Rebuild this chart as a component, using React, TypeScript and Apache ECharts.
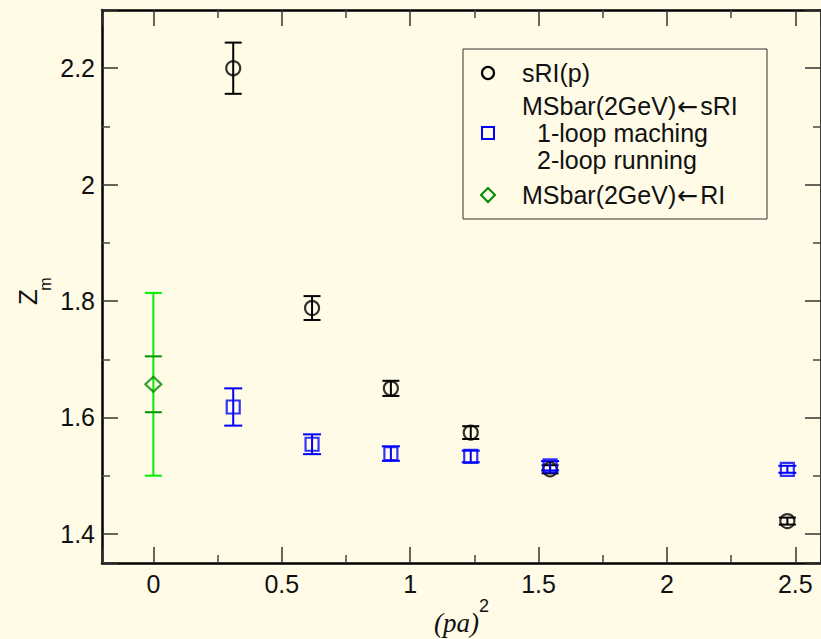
import React, { useEffect, useRef } from "react";
import * as echarts from "echarts";

// ---- data ----
const xP = [0.311, 0.618, 0.925, 1.236, 1.545, 2.469];
const sriY = [2.2, 1.788, 1.65, 1.574, 1.511, 1.422];
const sriErr = [0.044, 0.0205, 0.013, 0.011, 0.007, 0.006];
const msY = [1.618, 1.554, 1.538, 1.533, 1.517, 1.511];
const msErr = [0.032, 0.017, 0.0125, 0.01, 0.008, 0.006];
const riX = [0];
const riY = [1.657];
const riErrInner = [0.048];
const riErrOuter = [0.157];

const xMin = -0.2;
const xMax = 2.6;
const yMin = 1.35;
const yMax = 2.3;

const legendLabels = ["sRI(p)", "MSbar(2GeV)\u2190sRI", "1-loop maching", "2-loop running", "MSbar(2GeV)\u2190RI"];

const BG = "#fffbe6";
const FONT = "Liberation Sans";

function errSeries(xs: number[], ys: number[], es: number[], color: string, halfCap: number, vertical: boolean, z: number) {
  return {
    type: "custom",
    xAxisIndex: 0,
    yAxisIndex: 0,
    silent: true,
    z,
    data: xs.map((x, i) => [x, ys[i] - es[i], ys[i] + es[i]]),
    encode: { x: 0, y: [1, 2] },
    renderItem: (params: any, api: any) => {
      const x = api.value(0);
      const lo = api.coord([x, api.value(1)]);
      const hi = api.coord([x, api.value(2)]);
      const st = { stroke: color, lineWidth: 2 };
      const children: any[] = [
        { type: "line", shape: { x1: lo[0] - halfCap, y1: lo[1], x2: lo[0] + halfCap, y2: lo[1] }, style: st },
        { type: "line", shape: { x1: hi[0] - halfCap, y1: hi[1], x2: hi[0] + halfCap, y2: hi[1] }, style: st },
      ];
      if (vertical) {
        children.push({ type: "line", shape: { x1: lo[0], y1: lo[1], x2: hi[0], y2: hi[1] }, style: st });
      }
      return { type: "group", children };
    },
  };
}

function axisCommon(showLabel: boolean) {
  return {
    axisLine: { show: true, onZero: false, lineStyle: { color: "#000", width: 2.5 } },
    axisTick: { show: true, inside: true, length: 16, lineStyle: { color: "#333", width: 1.5 } },
    minorTick: { show: true, splitNumber: 2, length: 8, lineStyle: { color: "#444", width: 1.5 } },
    splitLine: { show: false },
    minorSplitLine: { show: false },
    axisLabel: {
      show: showLabel,
      showMinLabel: false,
      showMaxLabel: false,
      fontFamily: FONT,
      fontSize: 25,
      color: "#111",
    },
  };
}

// legend label text with a wider arrow glyph
function arrowRich(label: string) {
  const parts = label.split("\u2190");
  return parts.length === 2 ? `{a|${parts[0]}}{b|\u2190}{a|${parts[1]}}` : `{a|${label}}`;
}

const richStyle = {
  a: { fontFamily: FONT, fontSize: 25, fill: "#111" },
  b: { fontFamily: "DejaVu Sans", fontSize: 25, fill: "#111", padding: [0, 2, 0, 1] },
};

export default function App() {
  const ref = useRef<HTMLDivElement>(null);
  useEffect(() => {
    if (!ref.current) return;
    const chart = echarts.init(ref.current, undefined, { renderer: "svg" });
    const xAxisBase = { type: "value", min: xMin, max: xMax, splitNumber: 5 };
    const yAxisBase = { type: "value", min: yMin, max: yMax, splitNumber: 5 };
    const lx = 463, ly = 49;
    const legendText = (x: number, y: number, label: string) => ({
      type: "text",
      x,
      y,
      z: 11,
      style: {
        text: arrowRich(label),
        rich: richStyle,
        fontFamily: FONT,
        fontSize: 25,
        fill: "#111",
        align: "left",
        verticalAlign: "middle",
      },
    });
    const option: any = {
      animation: false,
      backgroundColor: BG,
      grid: { left: 102, top: 10, width: 721, height: 553, containLabel: false },
      xAxis: [
        { ...xAxisBase, position: "bottom", ...axisCommon(true), axisLabel: { ...axisCommon(true).axisLabel, margin: 8 } },
        { ...xAxisBase, position: "top", ...axisCommon(false) },
      ],
      yAxis: [
        { ...yAxisBase, position: "left", ...axisCommon(true), axisLabel: { ...axisCommon(true).axisLabel, margin: 7 } },
        { ...yAxisBase, position: "right", ...axisCommon(false) },
      ],
      series: [
        errSeries(riX, riY, riErrOuter, "#00ee00", 8.5, true, 2),
        errSeries(riX, riY, riErrInner, "#009000", 8.5, false, 3),
        errSeries(xP, sriY, sriErr, "#000000", 8.5, true, 4),
        errSeries(xP, msY, msErr, "#0000ff", 9, true, 4),
        {
          type: "scatter",
          name: legendLabels[0],
          data: xP.map((x, i) => [x, sriY[i]]),
          symbol: "circle",
          symbolSize: 14,
          itemStyle: { color: "rgba(0,0,0,0)", borderColor: "#000", borderWidth: 2.2 },
          z: 5,
          silent: true,
        },
        {
          type: "scatter",
          name: legendLabels[1],
          data: xP.map((x, i) => [x, msY[i]]),
          symbol: "rect",
          symbolSize: 13,
          itemStyle: { color: "rgba(0,0,0,0)", borderColor: "#0000ff", borderWidth: 2.2 },
          z: 5,
          silent: true,
        },
        {
          type: "scatter",
          name: legendLabels[4],
          data: riX.map((x, i) => [x, riY[i]]),
          symbol: "diamond",
          symbolSize: [16, 15],
          itemStyle: { color: "rgba(0,0,0,0)", borderColor: "#008a00", borderWidth: 2.2 },
          z: 6,
          silent: true,
        },
      ],
      graphic: [
        {
          type: "rect",
          shape: { x: lx, y: ly, width: 304, height: 170 },
          style: { fill: BG, stroke: "#333", lineWidth: 1 },
          z: 10,
        },
        { type: "circle", shape: { cx: 488, cy: 73, r: 6 }, style: { fill: "none", stroke: "#000", lineWidth: 2.2 }, z: 11 },
        { type: "rect", shape: { x: 482, y: 127, width: 12, height: 12 }, style: { fill: "none", stroke: "#0000ff", lineWidth: 2 }, z: 11 },
        {
          type: "polygon",
          shape: { points: [[488, 188], [495, 195], [488, 202], [481, 195]] },
          style: { fill: "none", stroke: "#008a00", lineWidth: 2 },
          z: 11,
        },
        legendText(522, 73, legendLabels[0]),
        legendText(522, 106, legendLabels[1]),
        legendText(537, 133, legendLabels[2]),
        legendText(537, 160, legendLabels[3]),
        legendText(522, 195, legendLabels[4]),
        // y axis title Z_m
        { type: "text", x: 28, y: 297, rotation: Math.PI / 2, style: { text: "Z", fontFamily: FONT, fontSize: 26, fill: "#111", align: "center", verticalAlign: "middle" }, z: 11 },
        { type: "text", x: 45, y: 284, rotation: Math.PI / 2, style: { text: "m", fontFamily: FONT, fontSize: 16, fill: "#111", align: "center", verticalAlign: "middle" }, z: 11 },
        // x axis title (pa)^2
        { type: "text", x: 434, y: 623, style: { text: "(pa)", fontFamily: "Liberation Serif", fontStyle: "italic", fontSize: 27, fill: "#111", align: "left", verticalAlign: "middle" }, z: 11 },
        { type: "text", x: 479, y: 606, style: { text: "2", fontFamily: FONT, fontSize: 18, fill: "#111", align: "left", verticalAlign: "middle" }, z: 11 },
      ],
    };
    chart.setOption(option);
    return () => chart.dispose();
  }, []);
  return <div ref={ref} style={{ position: "fixed", left: 0, top: 0, width: 821, height: 639 }} />;
}
